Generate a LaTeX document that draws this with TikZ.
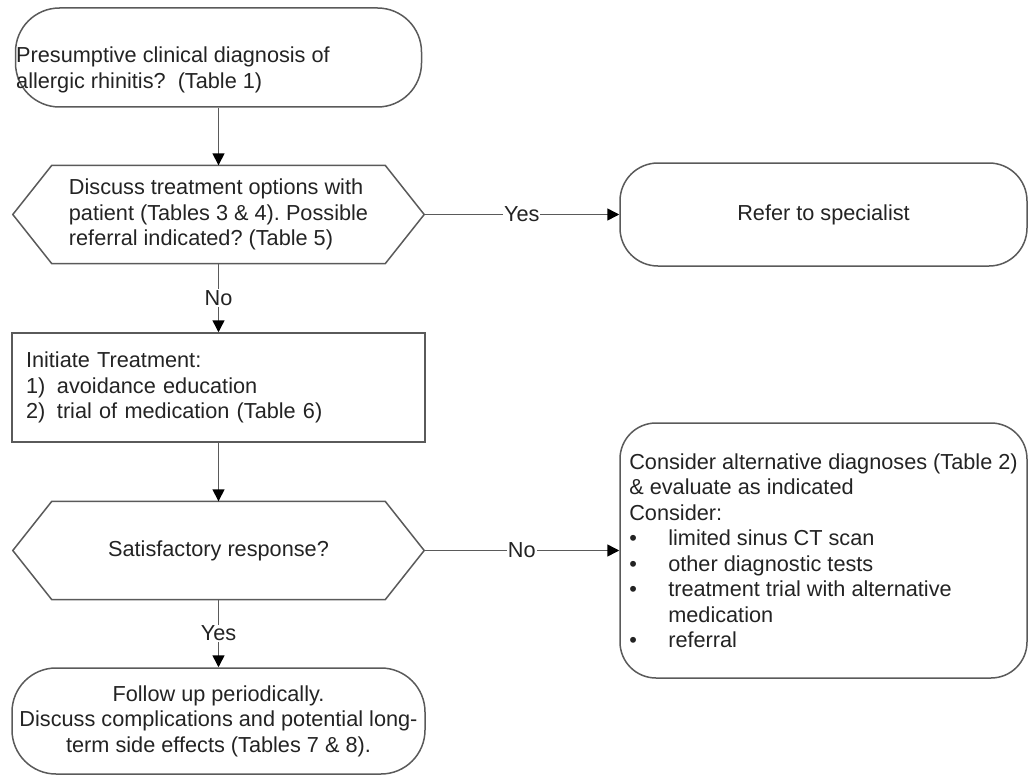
\documentclass[tikz,border=0pt]{standalone}
\usepackage{fontspec}
\setmainfont{Liberation Sans}
\usepackage{tikz}
\usetikzlibrary{calc,positioning,arrows.meta}
\definecolor{linegray}{RGB}{90,90,90}
\definecolor{textgray}{RGB}{35,35,35}
\frenchspacing

\begin{document}
\begin{tikzpicture}[x=1pt, y=-1pt,
  every node/.style={font=\fontsize{21.7}{25.5}\selectfont, text=textgray},
  terminal/.style={draw=linegray, line width=1.5pt, rounded corners=38pt,
    align=center},
  decision/.style={minimum width=411pt, minimum height=98pt, inner sep=0pt,
    align=left},
  process/.style={draw=linegray, line width=1.5pt, minimum width=413pt,
    minimum height=109pt, text width=385pt, inner xsep=14pt, align=left},
  outline/.style={draw=linegray, line width=1.5pt},
  answer/.style={fill=white, inner sep=1pt},
  flow/.style={-{Triangle[length=12pt, width=12pt, color=black]},
    draw=linegray, line width=1.5pt},
]
  \useasboundingbox (0,0) rectangle (1029,776);

  \node[terminal, minimum width=406pt, minimum height=99pt,
    rounded corners=44pt] (diag) at (218.5,57.5) {};
  \node[anchor=north west, inner sep=0pt, align=left] (diagtext) at (16,47)
    {Presumptive clinical diagnosis of\\allergic rhinitis?\ \ (Table 1)};

  \node[decision] (disc) at (218.5,214.5)
    {Discuss treatment options with\\patient (Tables 3 \& 4). Possible\\referral indicated? (Table 5)};
  \node[terminal, minimum width=407pt, minimum height=103pt] (refer) at (823.5,214.5)
    {Refer to specialist};

  \node[process] (treat) at (218.5,387.5)
    {Initiate Treatment:\\
     \makebox[31pt][l]{1)}avoidance education\\
     \makebox[31pt][l]{2)}trial of medication (Table 6)};

  \node[decision] (resp) at (218.5,550.5) {Satisfactory response?};
  \node[terminal, minimum width=407pt, minimum height=255pt, align=left,
    rounded corners=36pt] (alt) at (823.5,550.5)
    {Consider alternative diagnoses (Table 2)\\
     \& evaluate as indicated\\
     Consider:\\
     \makebox[39pt][l]{\textbullet}limited sinus CT scan\\
     \makebox[39pt][l]{\textbullet}other diagnostic tests\\
     \makebox[39pt][l]{\textbullet}treatment trial with alternative\\
     \hspace*{39pt}medication\\
     \makebox[39pt][l]{\textbullet}referral};

  \node[terminal, minimum width=413pt, minimum height=106pt,
    rounded corners=44pt] (follow) at (218.5,721)
    {Follow up periodically.\\
     Discuss complications and potential long-\\
     term side effects (Tables 7 \& 8).};

  \foreach \hx in {disc,resp}
    \draw[outline] ([xshift=39pt]\hx.north west) -- ([xshift=-39pt]\hx.north east)
      -- (\hx.east) -- ([xshift=-39pt]\hx.south east)
      -- ([xshift=39pt]\hx.south west) -- (\hx.west) -- cycle;

  \draw[flow] (diag) -- (disc);
  \draw[flow] (disc) -- node[answer] (yes1) {Yes} (refer);
  \draw[flow] (disc) -- node[answer] (no1) {No} (treat);
  \draw[flow] (treat) -- (resp);
  \draw[flow] (resp) -- node[answer] (no2) {No} (alt);
  \draw[flow] (resp) -- node[answer] (yes2) {Yes} (follow);
\end{tikzpicture}
\end{document}
